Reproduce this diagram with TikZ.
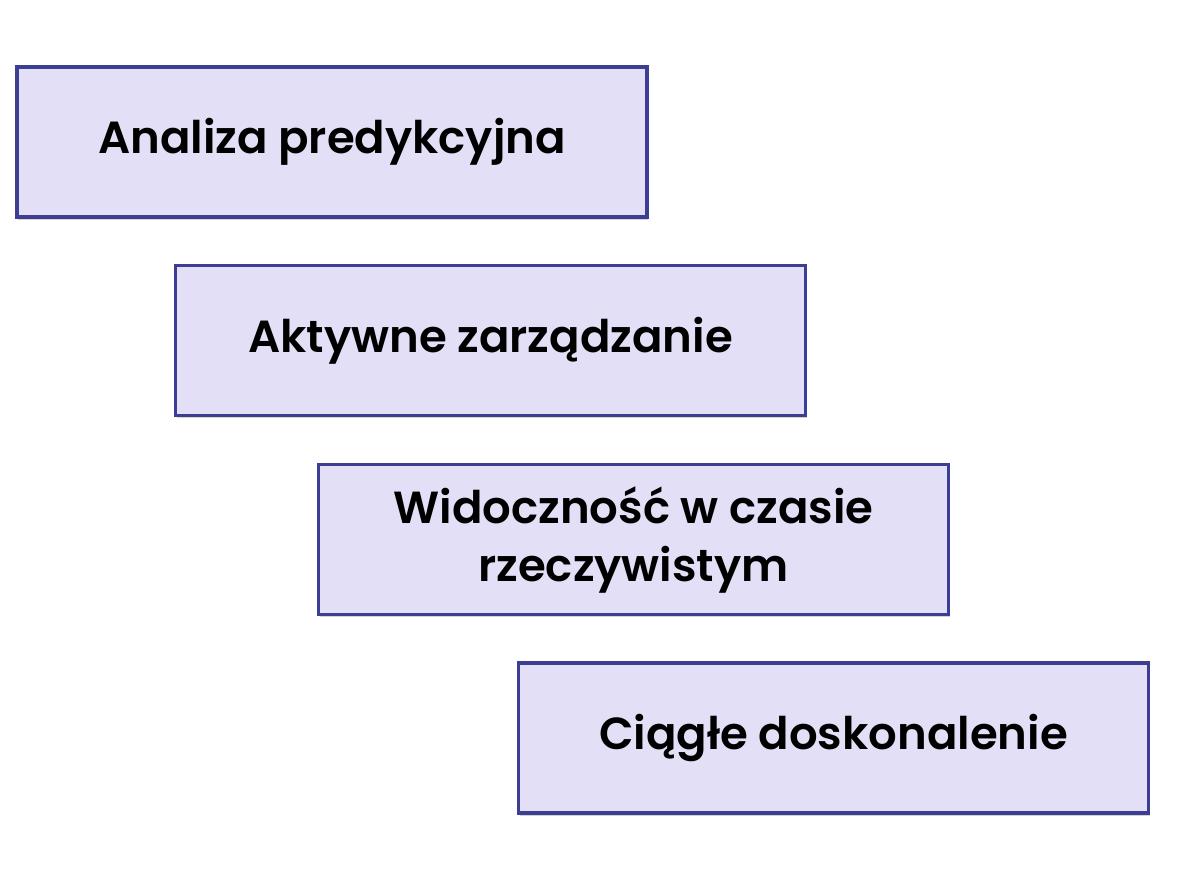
\documentclass[tikz,border=0pt]{standalone}
\usepackage{fontspec}
\setmainfont{Poppins}[BoldFont={Poppins SemiBold}]
\usepackage{tikz}
\usetikzlibrary{positioning, shadows}

\definecolor{stepfill}{HTML}{E2DFF6}
\definecolor{stepline}{HTML}{3B3E93}

\begin{document}
\begin{tikzpicture}[
    box/.style={rectangle, draw=stepline, line width=1.1pt, fill=stepfill,
        minimum width=6.3cm, minimum height=1.5cm, align=center,
        font=\fontsize{12.8}{16.5}\selectfont\bfseries, anchor=center,
        drop shadow={shadow xshift=0.4pt, shadow yshift=-0.8pt, opacity=0.35, fill=gray}}
]
\useasboundingbox (0,0) rectangle (11.93,8.96);

% stairs of boxes
\node[box] (analiza) at (3.32, 7.54) {Analiza predykcyjna};
\node[box] (zarzadzanie) at (4.905, 5.555) {Aktywne zarządzanie};
\node[box] (widocznosc) at (6.335, 3.565) {Widoczność w czasie\\rzeczywistym};
\node[box] (doskonalenie) at (8.335, 1.58) {Ciągłe doskonalenie};

\end{tikzpicture}
\end{document}
